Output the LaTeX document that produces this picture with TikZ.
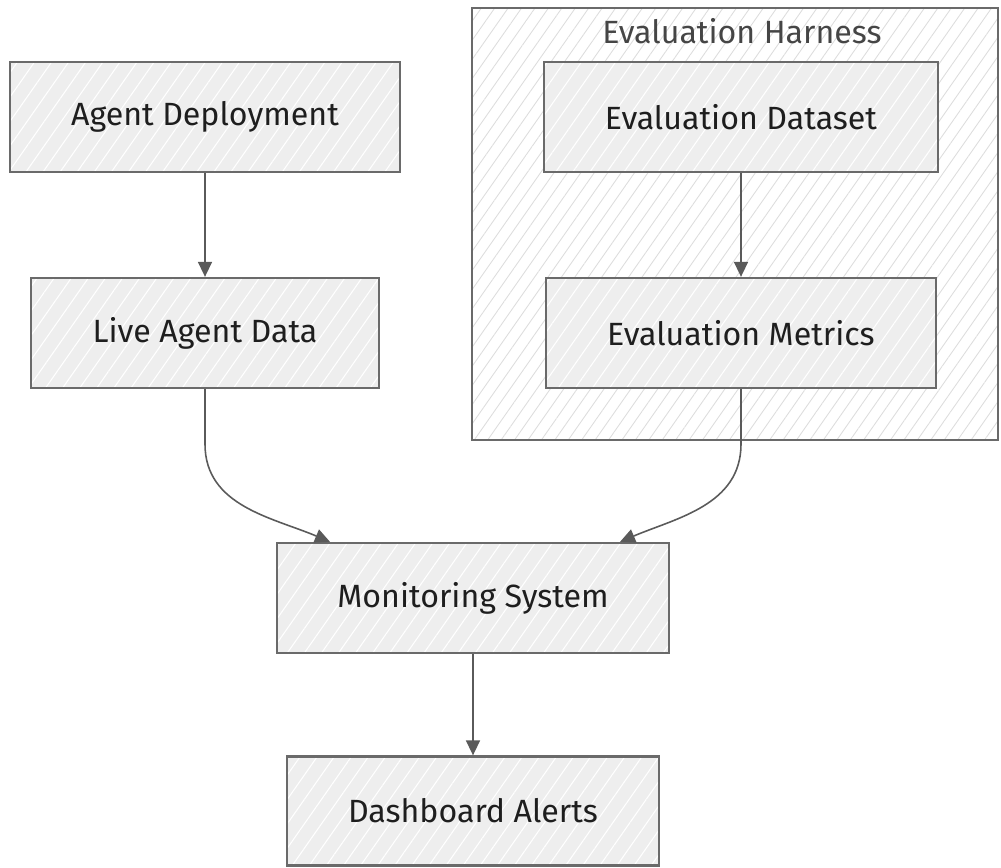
\documentclass[tikz,border=0pt]{standalone}
\usepackage{fontspec}
\setmainfont{Fira Sans}
\usetikzlibrary{arrows.meta,positioning,patterns.meta}

\definecolor{boxfill}{HTML}{EEEEEE}
\definecolor{boxline}{HTML}{6A6A6A}
\definecolor{flowline}{HTML}{5A5A5A}
\definecolor{textdark}{HTML}{1E1E1E}
\definecolor{labelgray}{HTML}{454545}
\definecolor{hatchgray}{HTML}{DDDDDD}

\tikzset{
  stage/.style={draw=boxline, line width=1.3pt, rectangle, minimum height=2.2cm, text=textdark,
    font=\fontsize{18.3}{21}\selectfont, preaction={fill=boxfill},
    pattern={Lines[angle=55,distance=0.28cm,line width=0.6pt]}, pattern color=white},
  harnessbox/.style={draw=boxline, line width=1.3pt, rectangle, fill=white,
    pattern={Lines[angle=55,distance=0.22cm,line width=0.5pt]}, pattern color=hatchgray},
  flow/.style={-{Triangle[length=0.3cm,width=0.28cm]}, draw=flowline, line width=0.9pt}
}

\begin{document}
\begin{tikzpicture}[node distance=4.32cm]
        \useasboundingbox (0,0) rectangle (20.02,-17.36);

        % Evaluation Harness
        \node (harness) at (14.70,-4.48) [harnessbox, minimum width=10.52cm, minimum height=8.64cm] {};
        \node (harnesslabel) [below=0.1cm of harness.north, xshift=0.14cm, text=labelgray, font=\fontsize{18.3}{21}\selectfont] {Evaluation Harness};

        % Agent side
        \node (deploy) at (4.1,-2.34) [stage, minimum width=7.8cm] {Agent Deployment};
        \node (live) [below of=deploy, stage, minimum width=6.96cm] {Live Agent Data};

        % Evaluation side
        \node (evalset) [right of=deploy, xshift=6.4cm, stage, minimum width=7.88cm] {Evaluation Dataset};
        \node (evalmet) [below of=evalset, stage, minimum width=7.8cm] {Evaluation Metrics};

        % Monitoring
        \node (monitor) [below of=live, xshift=5.36cm, yshift=-0.98cm, stage, minimum width=7.84cm] {Monitoring System};
        \node (dash) [below of=monitor, yshift=0.06cm, stage, minimum width=7.44cm, minimum height=2.18cm] {Dashboard Alerts};

        % Arrows
        \draw [flow] (deploy) -- (live);
        \draw [flow] (evalset) -- (evalmet);
        \draw [flow] (live.south) -- ++(0,-1.1) to[out=-90, in=157] ([xshift=-2.86cm]monitor.north);
        \draw [flow] (evalmet.south) -- ++(0,-1.1) to[out=-90, in=23] ([xshift=2.94cm]monitor.north);
        \draw [flow] (monitor) -- (dash);
    \end{tikzpicture}
\end{document}
